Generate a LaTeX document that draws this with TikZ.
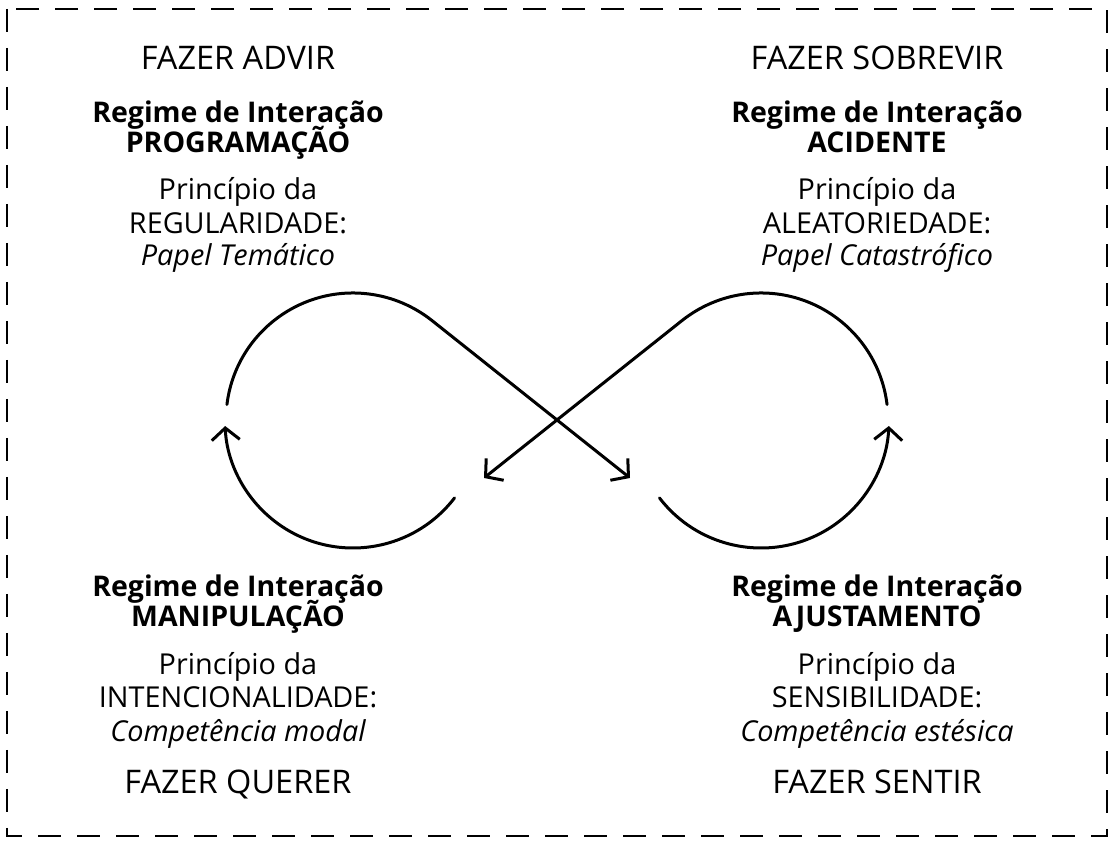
\documentclass[tikz,border=0pt]{standalone}
\usepackage{fontspec}
\setmainfont{Open Sans}
\usetikzlibrary{arrows.meta,calc}
\begin{document}
\begin{tikzpicture}[x=1pt,y=1pt,
  txt/.style={anchor=base,inner sep=0pt,font=\fontsize{28.8}{34}\selectfont,text=black},
  htxt/.style={txt,font=\fontsize{32.5}{38}\selectfont},
  btxt/.style={txt,font=\fontsize{28.5}{34}\selectfont\bfseries},
  itxt/.style={txt,font=\fontsize{28.8}{34}\selectfont\itshape},
  loop/.style={line width=3pt,line cap=round,black},
  tip/.style={-{Straight Barb[length=12pt,width=28pt,line width=3pt]}},
  frame/.style={line width=1.8pt,black,dash pattern=on 23pt off 16pt}]
\useasboundingbox (0,0) rectangle (1116,848);
\draw[frame] (7,839) rectangle (1107,12);

% top left
\node[htxt] (advir) at (238,778) {FAZER ADVIR};
\node[btxt] (rg1)   at (238,725) {Regime de Interação};
\node[btxt] (prog)  at (238,695) {PROGRAMAÇÃO};
\node[txt]  (pr1)   at (238,648) {Princípio da};
\node[txt]  (reg)   at (238,614) {REGULARIDADE:};
\node[itxt] (pt)    at (238,582) {Papel Temático};
% top right
\node[htxt] (sobre) at (877,778) {FAZER SOBREVIR};
\node[btxt] (rg2)   at (877,725) {Regime de Interação};
\node[btxt] (acid)  at (877,695) {ACIDENTE};
\node[txt]  (pr2)   at (877,648) {Princípio da};
\node[txt]  (ale)   at (877,614) {ALEATORIEDADE:};
\node[itxt] (pc)    at (877,582) {Papel Catastrófico};
% bottom left
\node[btxt] (rg3)   at (238,251) {Regime de Interação};
\node[btxt] (mani)  at (238,221) {MANIPULAÇÃO};
\node[txt]  (pr3)   at (238,173) {Princípio da};
\node[txt]  (inte)  at (238,140) {INTENCIONALIDADE:};
\node[itxt] (cm)    at (238,106) {Competência modal};
\node[htxt] (quer)  at (238,54)  {FAZER QUERER};
% bottom right
\node[btxt] (rg4)   at (877,251) {Regime de Interação};
\node[btxt] (ajus)  at (877,221) {AJUSTAMENTO};
\node[txt]  (pr4)   at (877,173) {Princípio da};
\node[txt]  (sens)  at (877,140) {SENSIBILIDADE:};
\node[itxt] (ce)    at (877,106) {Competência estésica};
\node[htxt] (sent)  at (877,54)  {FAZER SENTIR};

% loop geometry
\coordinate (cl) at (353,428);
\coordinate (cr) at (761,428);
\coordinate (tipR) at (630,370);
\coordinate (tipL) at (484,370);

% left upper arc + line to right arrow
\draw[loop,tip] ($(cl)+(173:127)$) arc[start angle=173,end angle=51.5,radius=127] -- (tipR);
% right upper arc + line to left arrow
\draw[loop,tip] ($(cr)+(7:127)$) arc[start angle=7,end angle=128.5,radius=127] -- (tipL);
% lower left arc
\draw[loop,tip] ($(cl)+(-37.5:128)$) arc[start angle=-37.5,end angle=-177.3,radius=128];
% lower right arc
\draw[loop,tip] ($(cr)+(217.5:128)$) arc[start angle=217.5,end angle=357.3,radius=128];
\end{tikzpicture}
\end{document}
